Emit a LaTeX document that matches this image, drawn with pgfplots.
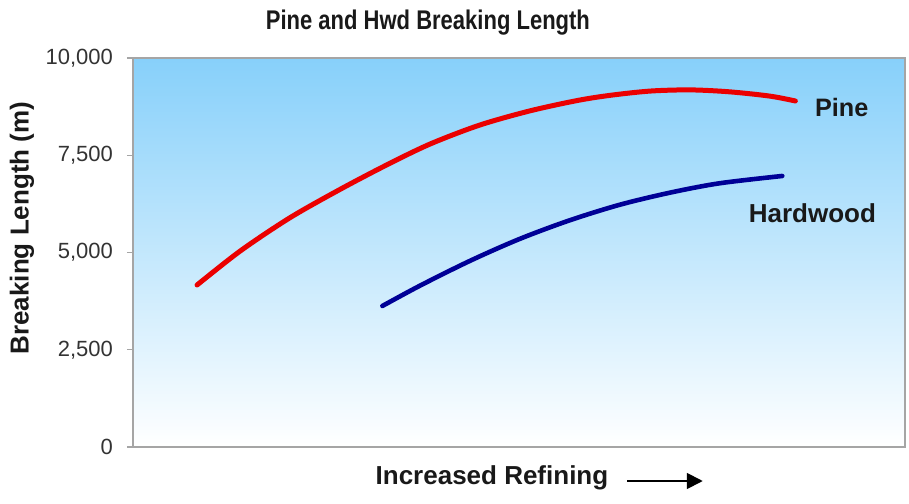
\documentclass[border=0pt]{standalone}
\usepackage{pgfplots}
\pgfplotsset{compat=1.18}
\usepackage{graphicx}
\usepackage{fontspec}
\setmainfont{Liberation Sans}
\usetikzlibrary{arrows.meta,calc}
\definecolor{skytop}{RGB}{135,208,250}
\definecolor{pinered}{RGB}{235,0,0}
\definecolor{hwdblue}{RGB}{0,0,150}
\definecolor{frame}{RGB}{165,165,165}
\definecolor{txt}{RGB}{25,25,25}
\begin{document}
\begin{tikzpicture}
\begin{axis}[
  scale only axis,
  width=386pt, height=194.5pt,
  xmin=0, xmax=100, ymin=0, ymax=10000,
  axis background/.style={top color=skytop, bottom color=white},
  axis line style={frame, line width=0.8pt},
  xtick=\empty,
  ytick={0,2500,5000,7500,10000},
  scaled y ticks=false,
  tick style={frame, line width=0.6pt},
  tick align=outside,
  major tick length=3pt,
  ytick pos=left,
  /pgf/number format/assume math mode=true,
  /pgf/number format/fixed,
  /pgf/number format/1000 sep={,},
  yticklabel style={font=\fontsize{11}{12}\selectfont, text=black!80, xshift=-3.5pt},
  clip=false,
]
\addplot[pinered, line width=2.5pt, smooth, tension=0.5, line cap=round] coordinates {
 (8.3,4165) (13.9,5040) (20.3,5890) (26.8,6620) (32.9,7255) (38.5,7790)
 (44.9,8275) (51.4,8640) (57.5,8905) (61.8,9040) (67.0,9150) (72.2,9180)
 (77.3,9130) (82.5,9020) (85.8,8895)
};
\addplot[hwdblue, line width=2.3pt, smooth, tension=0.5, line cap=round] coordinates {
 (32.3,3625) (37.2,4150) (43.7,4790) (50.1,5350) (56.6,5830) (63.1,6230)
 (69.6,6540) (76.0,6780) (84.1,6967)
};
\node[font=\bfseries\fontsize{12.6}{14}\selectfont, text=txt] at (axis cs:91.8,8715) {Pine};
\node[font=\bfseries\fontsize{13}{14}\selectfont, text=txt] at (axis cs:88.0,6015) {Hardwood};
\coordinate (SW) at (rel axis cs:0,0);
\coordinate (NE) at (rel axis cs:1,1);
\coordinate (TT) at (rel axis cs:0.382,1);
\coordinate (XL) at (rel axis cs:0.465,0);
\coordinate (A1) at (rel axis cs:0.64,0);
\coordinate (A2) at (rel axis cs:0.738,0);
\coordinate (YL) at (rel axis cs:0,0.563);
\end{axis}
\node[font=\bfseries\fontsize{13.5}{15}\selectfont, text=txt] at ($(TT)+(0,17.5pt)$) {\scalebox{0.815}[1]{Pine and Hwd Breaking Length}};
\node[font=\bfseries\fontsize{13}{14}\selectfont, text=txt] at ($(XL)+(0,-15.5pt)$) {Increased Refining};
\draw[line width=0.9pt, -{Triangle[length=8pt,width=8pt]}] ($(A1)+(0,-17pt)$) -- ($(A2)+(0,-17pt)$);
\node[font=\bfseries\fontsize{13}{14}\selectfont, rotate=90, text=txt] at ($(YL)+(-55.5pt,0)$) {Breaking Length (m)};
\pgfresetboundingbox
\path ($(SW)+(-66.5pt,-28pt)$) rectangle ($(NE)+(2pt,29pt)$);
\end{tikzpicture}
\end{document}
